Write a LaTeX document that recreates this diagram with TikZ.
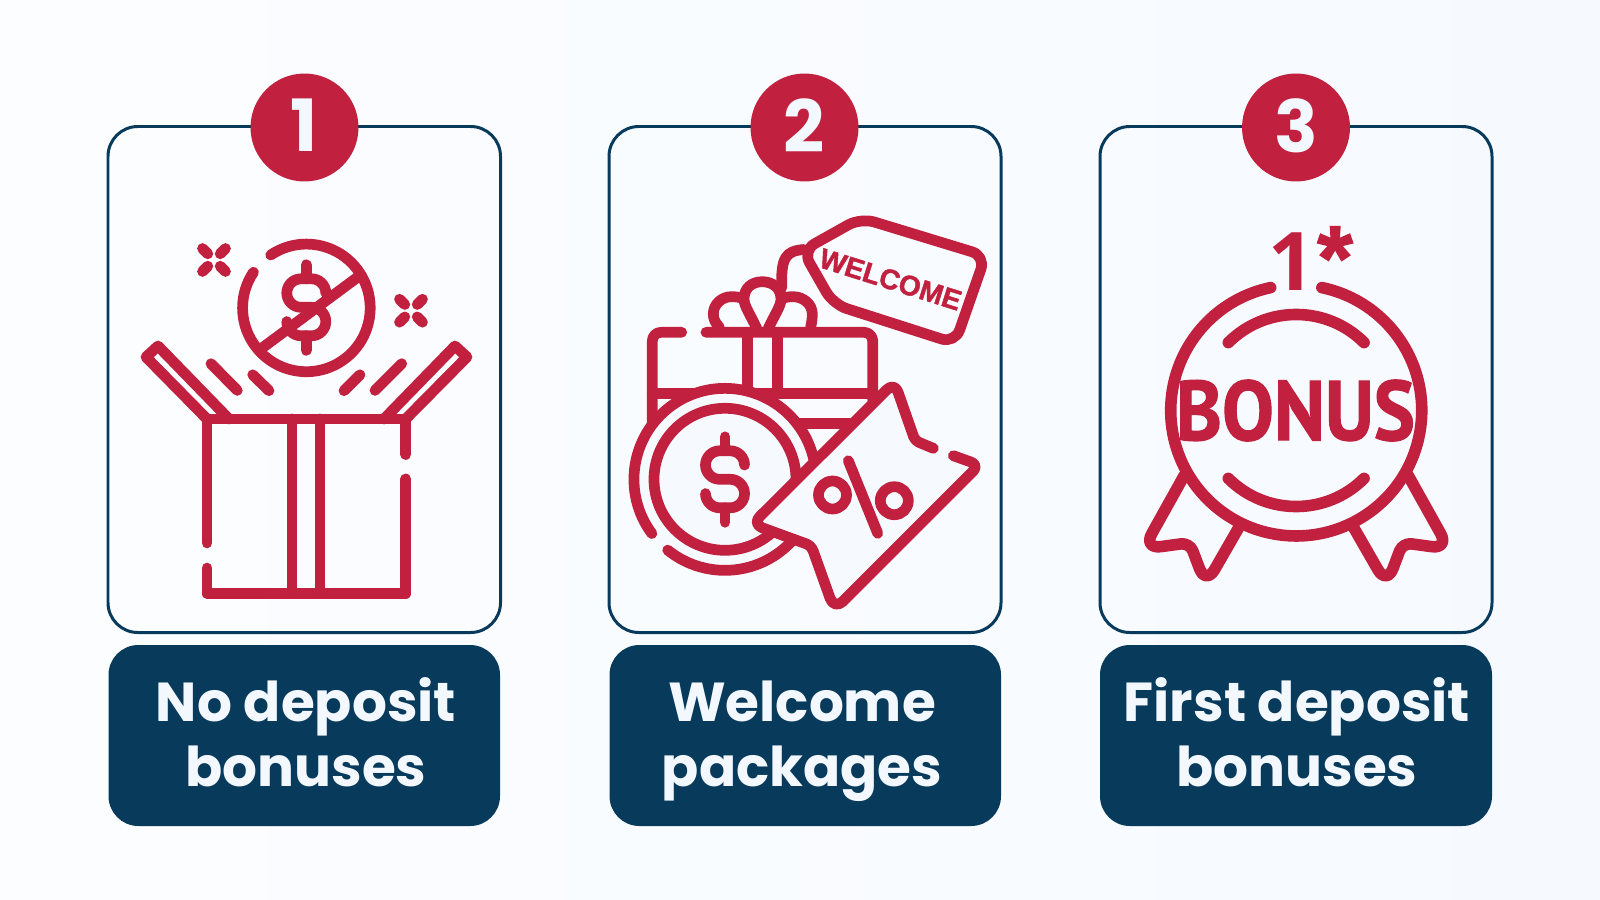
\documentclass[tikz,border=0pt]{standalone}
\usepackage{fontspec}
\setmainfont{Poppins}
\newfontfamily\tagfont{Liberation Sans}[BoldFeatures={FakeBold=1.5}]
\newfontfamily\medalfont{PT Sans}[BoldFeatures={FakeBold=1.5}]
\newfontfamily\rankfont{Open Sans}
\definecolor{medalred}{HTML}{C1203F}
\definecolor{cardblue}{HTML}{083A5C}
\definecolor{paletext}{HTML}{F3F8FE}
\definecolor{panelfill}{HTML}{F6FAFF}
\tikzset{
  iconline/.style={draw=medalred,line width=3.05pt,line cap=round,line join=round},
  medalline/.style={iconline,line width=3.3pt},
  cardframe/.style={draw=cardblue,line width=0.85pt,rounded corners=8.5pt},
  captionbox/.style={fill=cardblue,rounded corners=8.5pt},
  captiontext/.style={text=paletext,align=center,anchor=base,font=\fontsize{15.6}{18.5}\selectfont\bfseries},
  numberdisc/.style={circle,fill=medalred,text=paletext,inner sep=0pt,minimum size=30.7pt,text depth=1.2pt,font=\fontsize{20.5}{20.5}\selectfont\bfseries},
  dollarsign/.pic={
    \draw[iconline] (19.5,-14.25) arc[start angle=0,delta angle=-90,radius=14.25] -- (-5.25,-28.5)
      arc[start angle=-90,delta angle=-180,radius=14.25] -- (5.25,0)
      arc[start angle=-90,delta angle=180,radius=14.25] -- (-5.25,28.5)
      arc[start angle=90,delta angle=90,radius=14.25];
    \draw[iconline] (0,-42.5)--(0,-28.5);
    \draw[iconline] (0,28.5)--(0,43);
  },
  sparkle/.pic={
    \foreach \sx in {-1,1} \foreach \sy in {-1,1}
      \draw[iconline] (\sx*6.2,\sy*6.2)--(\sx*11.5,\sy*11.5);
  },
  ribbon/.pic={
    \draw[medalline] (-112,65)[rounded corners=5pt]--(-153,138.5)[rounded corners=2.5pt]--(-106.5,132.2)[rounded corners=5pt]--(-90.5,174.5)--(-58,118);
  }
}

\begin{document}
\begin{tikzpicture}[x=0.01cm,y=-0.01cm]%
%%FOND
\shade[left color=white!60!panelfill,middle color=panelfill,right color=panelfill] (0,0) rectangle (1600,900);%%
%%CARTES
\draw[cardframe] (108,126.5) rectangle (500.5,632.5);%%
\draw[cardframe] (609,126.5) rectangle (1001,632.5);%%
\draw[cardframe] (1100,126.5) rectangle (1492,632.5);%%
\fill[captionbox] (108.5,645) rectangle (500,826);%%
\fill[captionbox] (609.5,645) rectangle (1001,826);%%
\fill[captionbox] (1100,645) rectangle (1492,826);%%
%%TEXTES
\node[numberdisc] (first) at (304.5,127.5) {1};%%
\node[numberdisc] (second) at (804.5,127.5) {2};%%
\node[numberdisc] (third) at (1296,127.5) {3};%%
\node[captiontext] (nodeposit) at (306,786.5) {No deposit\\bonuses};%%
\node[captiontext] (welcomepack) at (802,786.5) {Welcome\\packages};%%
\node[captiontext] (firstdeposit) at (1297,786.5) {First deposit\\bonuses};%%
%%BOITE OUVERTE
\draw[iconline] (207,543)--(207,419)--(405.7,419)--(405.7,454.5);%%
\draw[iconline] (207,568)--(207,593.7)--(405.7,593.7)--(405.7,479);%%
\draw[iconline] (292,419)--(292,593.7);%%
\draw[iconline] (320,419)--(320,593.7);%%
\draw[iconline] (207,419)--(146,357)--(158,346)--(229,419);%%
\draw[iconline] (405.7,419)--(467,357)--(455,346)--(384,419);%%
\draw[iconline] (211,363.7)--(237.3,390.4);%%
\draw[iconline] (252.7,374.8)--(269,390.7);%%
\draw[iconline] (401.7,363.7)--(375,390.4);%%
\draw[iconline] (360,374.8)--(344,390.7);%%
\draw[iconline] (270.7,255) arc[start angle=236,end angle=574,radius=63.8];%%
\draw[iconline,line cap=butt] (261.7,348.3)--(358.3,276.7);%%
\pic (nodollar) at (306.3,307.3) {dollarsign};%%
\pic (sparkleleft) at (214,260) {sparkle};%%
\pic (sparkleright) at (411,310.7) {sparkle};%%
%%CADEAU
\draw[iconline] (756.7,328.3) .. controls (750,314) and (744,306) .. (744,299) .. controls (744,288) and (752,281.7) .. (762.3,281.7) .. controls (772.5,281.7) and (781,288) .. (781,299) .. controls (781,306) and (775,314) .. (768.3,328.3);%%
\draw[iconline] (719.3,327) .. controls (715.5,323.5) and (713.3,319) .. (713.3,314) .. controls (713.3,304.4) and (721.6,296.7) .. (731.2,296.7) .. controls (735,296.7) and (740,297) .. (744,299);%%
\draw[iconline] (810.7,327) .. controls (811.8,322) and (812.3,318) .. (812.3,314) .. controls (812.3,304) and (803,296.7) .. (793.3,296.7) .. controls (790,296.7) and (785,297) .. (781,299);%%
\draw[iconline] (781.7,288) .. controls (781,258) and (785,251) .. (804,249.5);%%
\draw[iconline,rounded corners=2.5pt] (681.7,332.3)--(652.3,332.3)--(652.3,425);%%
\draw[iconline,rounded corners=2.5pt] (706,332.3)--(872.7,332.3)--(872.7,400);%%
\draw[iconline] (652.3,393.3)--(872.7,393.3);%%
\draw[iconline] (700,423.7)--(850,423.7);%%
\draw[iconline] (747.7,332.3)--(747.7,393.3);%%
\draw[iconline] (777.7,332.3)--(777.7,393.3);%%
%%ETIQUETTE
\draw[iconline,rounded corners=4pt] (802.5,250.5)--(860.8,217.9)--(985.5,255.9)--(955,343.3)--(833.3,304.3)--cycle;%%
\node[rotate=-17.5,text=medalred,font=\tagfont\fontsize{8}{8}\selectfont\bfseries] (welcometag) at (890.5,279.5) {WELCOME};%%
%%PIECE
\fill[panelfill] (725,479.3) circle[radius=91];%%
\draw[iconline] (651.9,533.6) arc[start angle=143.4,end angle=489,radius=91];%%
\draw[iconline] (725,479.3) circle[radius=71];%%
\pic (coindollar) at (725,479.3) {dollarsign};%%
%%COUPON
\filldraw[iconline,fill=panelfill] (953.3,455.7)[rounded corners=2.5pt]--(979.3,465)[rounded corners=3.5pt]--(834.3,610)[rounded corners=1.5pt]--(811.3,545.7)[rounded corners=3pt]--(752.2,524.1)[rounded corners=3pt]--(894.5,382)[rounded corners=1.2pt]--(915,440.7)--(933.3,448.3);%%
\draw[iconline] (848.3,460.7)--(877.7,533.3);%%
\draw[iconline] (832.5,495) circle[radius=14];%%
\draw[iconline] (894.3,500.7) circle[radius=14];%%
%%MEDAILLE
\pic (ribbonleft) at (1296.2,410.5) {ribbon};%%
\pic[xscale=-1] (ribbonright) at (1296.2,410.5) {ribbon};%%
\draw[medalline] (1321.9,287.6) arc[start angle=-78.2,end angle=258.2,radius=125.5];%%
\draw[medalline] (1228.3,342.6) arc[start angle=-135,delta angle=90,radius=96];%%
\draw[medalline] (1228.3,478.4) arc[start angle=135,delta angle=-90,radius=96];%%
\node[text=medalred,font=\medalfont\fontsize{24}{24}\selectfont\bfseries] (bonusword) at (1295.5,410.5) {\scalebox{0.92}[1]{BONUS}};%%
\node[text=medalred,font=\rankfont\fontsize{23}{23}\selectfont\bfseries] (rankone) at (1292,262) {1};%%
\node[text=medalred,font=\tagfont\fontsize{26}{26}\selectfont\bfseries] (rankstar) at (1335,258) {*};%%
\end{tikzpicture}
\end{document}
